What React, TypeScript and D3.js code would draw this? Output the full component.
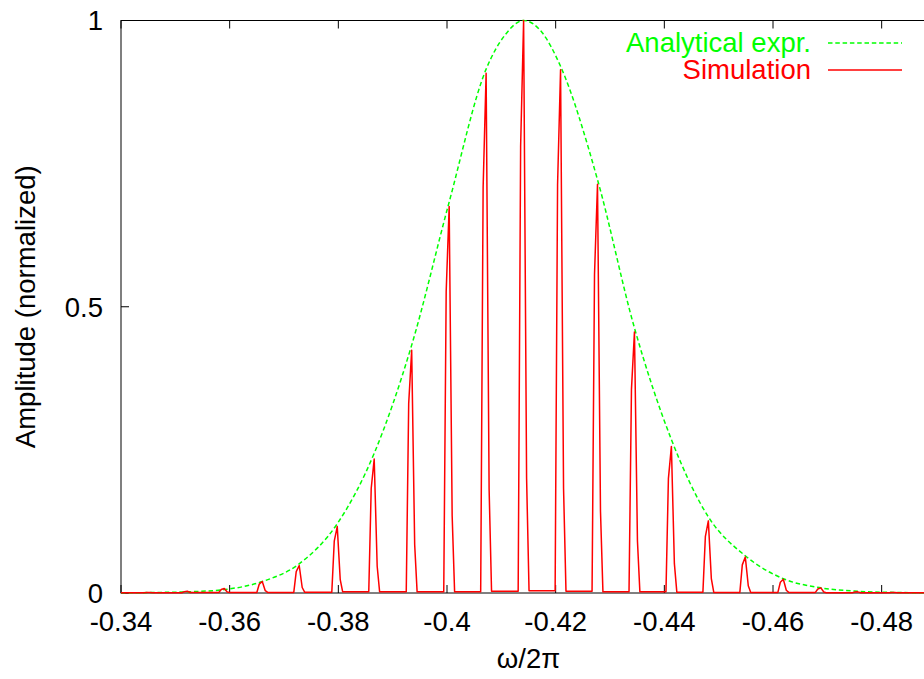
import React from "react";
import * as d3 from "d3";

// ---- data ----
const xTickValues = [-0.34, -0.36, -0.38, -0.4, -0.42, -0.44, -0.46, -0.48];
const xTickLabels = ["-0.34", "-0.36", "-0.38", "-0.4", "-0.42", "-0.44", "-0.46", "-0.48"];
const yTickValues = [0, 0.5, 1];
const yTickLabels = ["0", "0.5", "1"];

// Analytical expression (envelope)
const analyticFreqs = [-0.34, -0.3453, -0.3522, -0.359, -0.366, -0.3728, -0.3798, -0.3866, -0.3935, -0.4004, -0.4072, -0.4107, -0.4141, -0.4175, -0.4209, -0.4277, -0.4345, -0.4413, -0.4481, -0.4549, -0.4619, -0.4688, -0.4756, -0.4824, -0.49];
const analyticValues = [0.0003, 0.0008, 0.002, 0.006, 0.02, 0.051, 0.121, 0.244, 0.433, 0.683, 0.915, 0.975, 1.0, 0.979, 0.92, 0.722, 0.463, 0.268, 0.133, 0.065, 0.025, 0.009, 0.003, 0.001, 0.0002];

// Simulation: spike positions and heights
const peakFreqs = [-0.3453, -0.3522, -0.359, -0.366, -0.3728, -0.3798, -0.3866, -0.3935, -0.4004, -0.4072, -0.4141, -0.4209, -0.4277, -0.4345, -0.4413, -0.4481, -0.4549, -0.4619, -0.4688, -0.4756, -0.4824];
const peakHeights = [0.001, 0.003, 0.008, 0.02, 0.048, 0.116, 0.234, 0.424, 0.675, 0.908, 1.0, 0.914, 0.714, 0.456, 0.256, 0.126, 0.063, 0.024, 0.009, 0.002, 0.001];
// baseline level before, between and after the spikes
const troughLevels = [0.0003, 0.0005, 0.001, 0.001, 0.001, 0.0015, 0.002, 0.002, 0.002, 0.002, 0.003, 0.004, 0.003, 0.002, 0.002, 0.0015, 0.001, 0.001, 0.001, 0.0005, 0.0005, 0.0003];

const W = 924;
const H = 679;
const margin = { left: 121, right: 936, top: 20.5, bottom: 593 };
const FONT = "'Liberation Sans', Arial, Helvetica, sans-serif";
const FS = 27.5;

export default function App() {
  const x = d3.scaleLinear().domain([-0.34, -0.49]).range([margin.left, margin.right]);
  const y = d3.scaleLinear().domain([0, 1]).range([margin.bottom, margin.top]);

  const analytic = analyticFreqs.map((f, i) => [f, analyticValues[i]] as [number, number]);
  const greenPath = d3
    .line<[number, number]>()
    .x((d) => x(d[0]))
    .y((d) => y(d[1]))
    .curve(d3.curveMonotoneX)(analytic) as string;

  // spike shape (screen-left side is the less negative frequency)
  const baseHalf = 0.001;
  const shoulderHalf = 0.00055;
  const sim: [number, number][] = [];
  sim.push([-0.34, troughLevels[0]]);
  peakFreqs.forEach((f, i) => {
    const h = peakHeights[i];
    const tl = troughLevels[i];
    const tr = troughLevels[i + 1];
    sim.push([f + baseHalf, tl]);
    sim.push([f + shoulderHalf, Math.max(tl, 0.78 * h)]);
    sim.push([f, h]);
    sim.push([f - shoulderHalf, Math.max(tr, 0.2 * h)]);
    sim.push([f - baseHalf, tr]);
  });
  sim.push([-0.49, troughLevels[troughLevels.length - 1]]);
  const redPath = d3
    .line<[number, number]>()
    .x((d) => x(d[0]))
    .y((d) => y(d[1]))(sim) as string;

  const tickLen = 8;

  return (
    <svg
      width={W}
      height={H}
      style={{ position: "absolute", left: 0, top: 0, background: "#fff" }}
      fontFamily={FONT}
    >
      <defs>
        <clipPath id="plotclip">
          <rect x={margin.left} y={margin.top - 2} width={margin.right - margin.left} height={margin.bottom - margin.top + 4} />
        </clipPath>
      </defs>
      <rect x={0} y={0} width={W} height={H} fill="#fff" />

      {/* x ticks (bottom and top, inward) */}
      {xTickValues.map((v, i) => (
        <g key={"xt" + i}>
          <line x1={x(v)} x2={x(v)} y1={margin.bottom} y2={margin.bottom - tickLen} stroke="#000" strokeWidth={1} />
          <line x1={x(v)} x2={x(v)} y1={margin.top} y2={margin.top + tickLen} stroke="#000" strokeWidth={1} />
          <text x={x(v)} y={631} textAnchor="middle" fontSize={FS} fill="#000">
            {xTickLabels[i]}
          </text>
        </g>
      ))}

      {/* y ticks */}
      {yTickValues.map((v, i) => (
        <g key={"yt" + i}>
          <line x1={margin.left} x2={margin.left + tickLen} y1={y(v)} y2={y(v)} stroke="#000" strokeWidth={1} />
          <line x1={margin.right} x2={margin.right - tickLen} y1={y(v)} y2={y(v)} stroke="#000" strokeWidth={1} />
          <text x={103} y={y(v)} dy="0.36em" textAnchor="end" fontSize={FS} fill="#000">
            {yTickLabels[i]}
          </text>
        </g>
      ))}

      {/* border */}
      <rect
        x={margin.left}
        y={margin.top}
        width={margin.right - margin.left}
        height={margin.bottom - margin.top}
        fill="none"
        stroke="#000"
        strokeWidth={1}
      />

      <g clipPath="url(#plotclip)">
        <path d={greenPath} fill="none" stroke="#00ff00" strokeWidth={1.5} strokeDasharray="4.5,2.8" />
        <path d={redPath} fill="none" stroke="#ff0000" strokeWidth={1.5} strokeLinejoin="round" />
      </g>

      {/* legend */}
      <text x={811} y={51.5} textAnchor="end" fontSize={FS} fill="#00ff00">
        Analytical expr.
      </text>
      <line x1={828} x2={902} y1={43} y2={43} stroke="#00ff00" strokeWidth={1.5} strokeDasharray="4.5,2.8" />
      <text x={811} y={79} textAnchor="end" fontSize={FS} fill="#ff0000">
        Simulation
      </text>
      <line x1={828} x2={902} y1={70} y2={70} stroke="#ff0000" strokeWidth={1.5} />

      {/* axis titles */}
      <text x={(margin.left + margin.right) / 2} y={668} textAnchor="middle" fontSize={FS} fill="#000">
        ω/2π
      </text>
      <text
        transform={`translate(35, ${(margin.top + margin.bottom) / 2}) rotate(-90)`}
        textAnchor="middle"
        fontSize={FS}
        fill="#000"
      >
        Amplitude (normalized)
      </text>
    </svg>
  );
}
